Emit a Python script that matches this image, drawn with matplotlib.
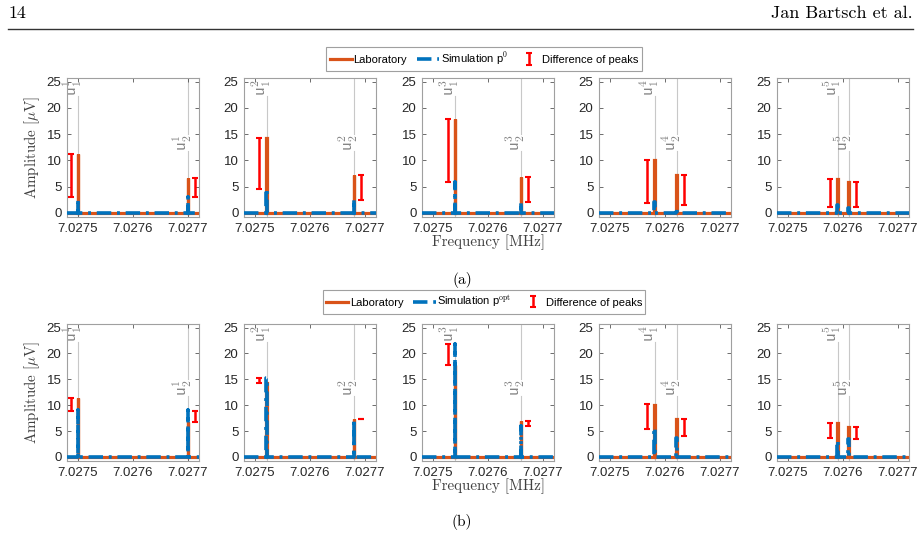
import matplotlib
matplotlib.use('Agg')
import matplotlib.pyplot as plt
from matplotlib.lines import Line2D

plt.rcParams['mathtext.fontset'] = 'cm'

# ---------------- data ----------------
freq_range = [7.02748, 7.02772]
xticks = [7.0275, 7.0276, 7.0277]
xticklabels = ['7.0275', '7.0276', '7.0277']
yticks = [0, 5, 10, 15, 20, 25]

peak_freqs = [[7.02750, 7.02770],
              [7.027521, 7.02768],
              [7.02754, 7.02766],
              [7.027581, 7.027621],
              [7.02759, 7.02761]]
lab_peaks = [[11.3, 6.7], [14.2, 7.3], [17.8, 6.9], [10.1, 7.3], [6.5, 5.8]]
sim0_peaks = [[2.6, 3.0], [4.5, 2.6], [5.9, 2.1], [2.0, 1.0], [1.4, 0.9]]
simopt_peaks = [[9.0, 9.0], [15.3, 7.4], [21.9, 6.0], [5.6, 3.7], [3.1, 3.5]]

diff0_lo = [[3.0, 3.0], [4.5, 2.5], [5.8, 2.0], [1.8, 1.5], [1.2, 1.1]]
diff0_hi = [[11.3, 6.7], [14.2, 7.3], [17.8, 6.9], [10.1, 7.3], [6.5, 5.8]]
diffopt_lo = [[8.9, 6.8], [14.2, 7.3], [17.8, 6.0], [5.3, 4.1], [3.7, 3.4]]
diffopt_hi = [[11.4, 8.9], [15.3, 7.4], [21.9, 6.9], [10.3, 7.4], [6.6, 5.8]]

mode_labels = [[r'$\mathsf{u}^{%d}_{1}$' % k, r'$\mathsf{u}^{%d}_{2}$' % k] for k in range(1, 6)]

LAB_C = '#D95319'
SIM_C = '#0072BD'
ERR_C = '#FF0000'
GRID_C = '#c8c8c8'

W, H = 921, 539
fig = plt.figure(figsize=(W / 100, H / 100), dpi=100)

lefts = [67, 244, 422, 599, 777]
aw = 132
rows = [(78, 217), (324, 461)]
YLIM = (-0.8, 25.7)
half = 0.5e-6
eb_off = [-1.35e-5, 1.3e-5]


def spectrum(freqs, heights):
    xs = [freq_range[0]]
    ys = [0]
    for f, h in sorted(zip(freqs, heights)):
        xs += [f - half, f - half, f + half, f + half]
        ys += [0, h, h, 0]
    xs.append(freq_range[1])
    ys.append(0)
    return xs, ys


tick_font = dict(family=['Liberation Sans', 'DejaVu Sans'], size=9.5, color='#262626')
handles = None
for r, (top, bot) in enumerate(rows):
    sims = sim0_peaks if r == 0 else simopt_peaks
    lo = diff0_lo if r == 0 else diffopt_lo
    hi = diff0_hi if r == 0 else diffopt_hi
    for i in range(5):
        ax = fig.add_axes([lefts[i] / W, 1 - bot / H, aw / W, (bot - top) / H])
        ax.set_xlim(freq_range)
        ax.set_ylim(YLIM)
        # vertical mode lines with labels
        for j in range(2):
            f = peak_freqs[i][j]
            if j == 0:
                ax.plot([f, f], [YLIM[0], 22.2], color=GRID_C, lw=0.8, zorder=1)
                ax.text(f - 0.05e-5, 25.4, mode_labels[i][j], rotation=90, ha='right',
                        va='baseline', rotation_mode='anchor',
                        color='#858585', fontsize=12, zorder=1)
            else:
                ax.plot([f, f], [YLIM[0], 11.7], color=GRID_C, lw=0.8, zorder=1)
                ax.plot([f, f], [15.0, YLIM[1]], color=GRID_C, lw=0.8, zorder=1)
                ax.text(f - 0.05e-5, 13.35, mode_labels[i][j], rotation=90, ha='center',
                        va='baseline', rotation_mode='anchor',
                        color='#858585', fontsize=12, zorder=1)
        xs, ys = spectrum(peak_freqs[i], lab_peaks[i])
        l1, = ax.plot(xs, ys, color=LAB_C, lw=2.3, solid_joinstyle='miter', zorder=2)
        xs, ys = spectrum(peak_freqs[i], sims[i])
        l2, = ax.plot(xs, ys, color=SIM_C, lw=2.6, linestyle=(0, (4, 1.6, 0.8, 1.6)), zorder=3)
        ebx = [peak_freqs[i][j] + eb_off[j] for j in range(2)]
        ctr = [(lo[i][j] + hi[i][j]) / 2 for j in range(2)]
        err = [(hi[i][j] - lo[i][j]) / 2 for j in range(2)]
        eb = ax.errorbar(ebx, ctr, yerr=err, fmt='none', ecolor=ERR_C, elinewidth=1.8,
                         capsize=2.4, capthick=1.5, zorder=4)
        ax.set_xticks(xticks)
        ax.set_xticklabels(xticklabels, fontdict=tick_font)
        ax.set_yticks(yticks)
        ax.set_yticklabels([str(v) for v in yticks], fontdict=tick_font)
        ax.tick_params(direction='in', length=3, width=0.6, color='#555555',
                       top=True, right=True, pad=4)
        for s in ax.spines.values():
            s.set_color('#a0a0a0')
            s.set_linewidth(0.8)
        if i == 0:
            ax.set_ylabel(r'Amplitude [$\mu$V]', family='cmr10', fontsize=10.8, color='#404040',
                          labelpad=3)
        if i == 2:
            ax.set_xlabel('Frequency [MHz]', family='cmr10', fontsize=10.8, color='#404040',
                          labelpad=0)
        if i == 0:
            handles = [l1, l2, eb]
    sim_label = r'Simulation p$^0$' if r == 0 else r'Simulation p$^{\mathrm{opt}}$'
    leg_y = 59 if r == 0 else 302
    leg = fig.legend(handles, ['Laboratory', sim_label, 'Difference of peaks'],
                     loc='center', bbox_to_anchor=(484 / W, 1 - leg_y / H), ncol=3,
                     prop=dict(family=['Liberation Sans', 'DejaVu Sans'], size=8),
                     frameon=True, fancybox=False, framealpha=1, edgecolor='#a0a0a0',
                     handlelength=2.0, handletextpad=0.15, columnspacing=0.9,
                     borderpad=0.3, borderaxespad=0)
    leg.get_frame().set_linewidth(0.8)

# header, captions
fig.text(8 / W, 1 - 13 / H, '14', family='cmr10', fontsize=13, va='center', ha='left')
fig.text(913 / W, 1 - 13 / H, 'Jan Bartsch et al.', family='cmr10', fontsize=13,
         va='center', ha='right')
fig.add_artist(Line2D([8 / W, 913 / W], [1 - 29 / H, 1 - 29 / H], color='#333333', lw=1.0))
fig.text(462 / W, 1 - 280 / H, '(a)', family='cmr10', fontsize=11, ha='center', va='center')
fig.text(462 / W, 1 - 522 / H, '(b)', family='cmr10', fontsize=11, ha='center', va='center')

fig.savefig('out.png', dpi=100)
